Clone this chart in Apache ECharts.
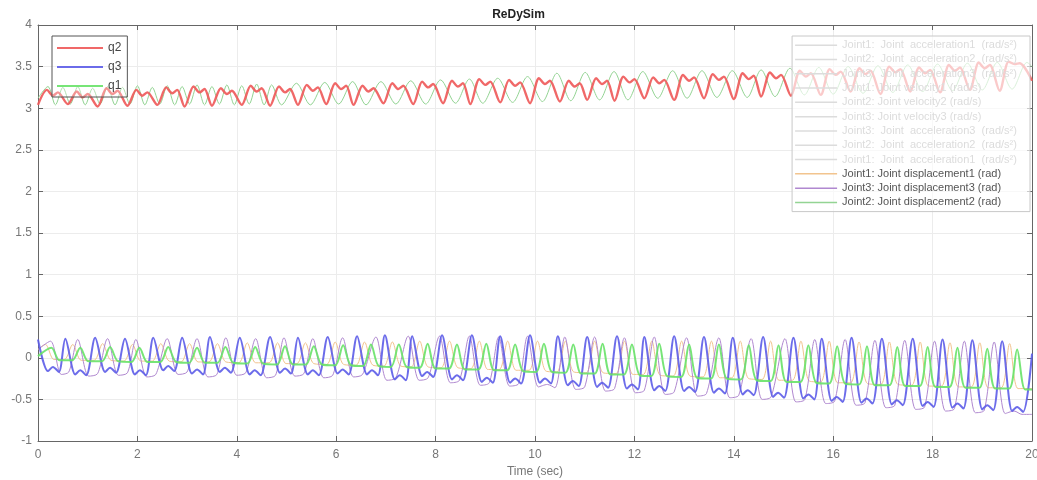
<!DOCTYPE html>
<html>
<head>
<meta charset="utf-8">
<title>ReDySim</title>
<script src="https://cdn.jsdelivr.net/npm/echarts@6/dist/echarts.min.js"></script>
<style>
  html, body { margin: 0; padding: 0; background: #fff; }
  #chart { width: 1037px; height: 480px; }
</style>
</head>
<body>
<div id="chart"></div>
<script>
// [time (sec), value (rad)]

// q2 - thick red, upper band
var q2 = [
  [0, 3.04], [0.18, 3.22], [0.3, 3.15], [0.4, 3.19],
  [0.6, 3.05], [0.78, 3.2], [0.9, 3.13], [1.0, 3.17],
  [1.2, 3.02], [1.38, 3.24], [1.5, 3.17], [1.6, 3.21],
  [1.8, 3.03], [1.98, 3.22], [2.1, 3.15], [2.2, 3.19],
  [2.4, 3.04], [2.58, 3.25], [2.7, 3.18], [2.8, 3.22],
  [2.95, 3.02], [3.13, 3.26], [3.25, 3.19], [3.35, 3.23],
  [3.5, 3.03], [3.68, 3.24], [3.8, 3.17], [3.9, 3.21],
  [4.1, 3.04], [4.28, 3.27], [4.4, 3.2], [4.5, 3.24],
  [4.67, 3.03], [4.85, 3.26], [4.97, 3.19], [5.07, 3.23],
  [5.23, 3.04], [5.41, 3.28], [5.53, 3.21], [5.63, 3.25],
  [5.8, 3.05], [5.98, 3.3], [6.1, 3.23], [6.2, 3.27],
  [6.35, 3.04], [6.53, 3.27], [6.65, 3.2], [6.75, 3.24],
  [6.95, 3.06], [7.13, 3.3], [7.25, 3.23], [7.35, 3.27],
  [7.55, 3.05], [7.73, 3.32], [7.85, 3.25], [7.95, 3.29],
  [8.15, 3.06], [8.33, 3.33], [8.45, 3.26], [8.55, 3.3],
  [8.7, 3.05], [8.88, 3.35], [9.0, 3.28], [9.1, 3.32],
  [9.3, 3.07], [9.48, 3.34], [9.6, 3.27], [9.7, 3.31],
  [9.9, 3.06], [10.08, 3.36], [10.2, 3.29], [10.3, 3.33],
  [10.5, 3.08], [10.68, 3.33], [10.8, 3.26], [10.9, 3.3],
  [11.05, 3.1], [11.23, 3.36], [11.35, 3.29], [11.45, 3.33],
  [11.6, 3.09], [11.78, 3.38], [11.9, 3.31], [12.0, 3.35],
  [12.2, 3.12], [12.38, 3.37], [12.5, 3.3], [12.6, 3.34],
  [12.8, 3.1], [12.98, 3.4], [13.1, 3.33], [13.2, 3.37],
  [13.4, 3.12], [13.58, 3.41], [13.7, 3.34], [13.8, 3.38],
  [14.0, 3.11], [14.18, 3.42], [14.3, 3.35], [14.4, 3.39],
  [14.55, 3.14], [14.73, 3.43], [14.85, 3.36], [14.95, 3.4],
  [15.15, 3.15], [15.33, 3.45], [15.45, 3.38], [15.55, 3.42],
  [15.75, 3.16], [15.93, 3.47], [16.05, 3.4], [16.15, 3.44],
  [16.35, 3.2], [16.53, 3.48], [16.65, 3.41], [16.75, 3.45],
  [16.95, 3.17], [17.13, 3.5], [17.25, 3.43], [17.35, 3.47],
  [17.55, 3.2], [17.73, 3.49], [17.85, 3.42], [17.95, 3.46],
  [18.15, 3.19], [18.33, 3.52], [18.45, 3.45], [18.55, 3.49],
  [18.75, 3.22], [18.93, 3.55], [19.05, 3.48], [19.15, 3.52],
  [19.35, 3.21], [19.53, 3.56], [19.65, 3.53], [19.75, 3.54],
  [20, 3.33]
];

// q3 - thick blue, lower band (troughs drift down)
var q3 = [
  [0, 0.22], [0.2, -0.16], [0.3, -0.11], [0.42, -0.17],
  [0.55, 0.23], [0.75, -0.2], [0.85, -0.15], [0.97, -0.21],
  [1.15, 0.24], [1.35, -0.17], [1.45, -0.12], [1.57, -0.18],
  [1.75, 0.23], [1.95, -0.2], [2.05, -0.15], [2.17, -0.21],
  [2.32, 0.24], [2.52, -0.15], [2.62, -0.1], [2.74, -0.16],
  [2.9, 0.24], [3.1, -0.19], [3.2, -0.14], [3.32, -0.2],
  [3.46, 0.25], [3.66, -0.17], [3.76, -0.12], [3.88, -0.18],
  [4.06, 0.24], [4.26, -0.2], [4.36, -0.15], [4.48, -0.21],
  [4.67, 0.25], [4.87, -0.18], [4.97, -0.13], [5.09, -0.19],
  [5.23, 0.24], [5.43, -0.2], [5.53, -0.15], [5.65, -0.21],
  [5.83, 0.25], [6.03, -0.19], [6.13, -0.14], [6.25, -0.2],
  [6.42, 0.26], [6.62, -0.2], [6.72, -0.15], [6.84, -0.21],
  [6.98, 0.27], [7.18, -0.26], [7.28, -0.21], [7.4, -0.27],
  [7.53, 0.26], [7.73, -0.22], [7.83, -0.17], [7.95, -0.23],
  [8.13, 0.27], [8.33, -0.26], [8.43, -0.21], [8.55, -0.27],
  [8.73, 0.27], [8.93, -0.29], [9.03, -0.24], [9.15, -0.3],
  [9.3, 0.26], [9.5, -0.3], [9.6, -0.25], [9.72, -0.31],
  [9.9, 0.27], [10.1, -0.3], [10.2, -0.25], [10.32, -0.31],
  [10.46, 0.26], [10.66, -0.33], [10.76, -0.28], [10.88, -0.34],
  [11.05, 0.25], [11.25, -0.35], [11.35, -0.3], [11.47, -0.36],
  [11.65, 0.26], [11.85, -0.37], [11.95, -0.32], [12.07, -0.38],
  [12.2, 0.25], [12.4, -0.39], [12.5, -0.34], [12.62, -0.4],
  [12.8, 0.26], [13.0, -0.4], [13.1, -0.35], [13.22, -0.41],
  [13.4, 0.25], [13.6, -0.42], [13.7, -0.37], [13.82, -0.43],
  [13.98, 0.24], [14.18, -0.44], [14.28, -0.39], [14.4, -0.45],
  [14.59, 0.25], [14.79, -0.47], [14.89, -0.42], [15.01, -0.48],
  [15.2, 0.24], [15.4, -0.49], [15.5, -0.44], [15.62, -0.5],
  [15.77, 0.23], [15.97, -0.52], [16.07, -0.47], [16.19, -0.53],
  [16.37, 0.24], [16.57, -0.54], [16.67, -0.49], [16.79, -0.55],
  [16.98, 0.23], [17.18, -0.56], [17.28, -0.51], [17.4, -0.57],
  [17.6, 0.23], [17.8, -0.58], [17.9, -0.53], [18.02, -0.59],
  [18.2, 0.22], [18.4, -0.6], [18.5, -0.55], [18.62, -0.61],
  [18.8, 0.21], [19.0, -0.62], [19.1, -0.57], [19.22, -0.63],
  [19.4, 0.2], [19.6, -0.64], [19.7, -0.59], [19.82, -0.65],
  [20, 0.05]
];

// q1 - thick green, humps on a sinking baseline
var q1 = [
  [0, 0.02], [0.27, 0.12], [0.43, -0.03], [0.69, -0.03],
  [0.85, 0.12], [1.01, -0.04], [1.29, -0.04], [1.45, 0.13], [1.61, -0.04],
  [1.88, -0.05], [2.04, 0.12], [2.2, -0.05], [2.46, -0.05], [2.62, 0.13],
  [2.78, -0.05], [3.04, -0.06], [3.2, 0.12], [3.36, -0.06], [3.61, -0.06],
  [3.77, 0.13], [3.93, -0.06], [4.21, -0.07], [4.37, 0.13], [4.53, -0.07],
  [4.81, -0.08], [4.97, 0.14], [5.13, -0.08], [5.39, -0.08], [5.55, 0.14],
  [5.71, -0.08], [5.98, -0.09], [6.14, 0.15], [6.3, -0.09], [6.54, -0.1],
  [6.7, 0.16], [6.86, -0.1], [7.1, -0.11], [7.26, 0.16], [7.42, -0.11],
  [7.68, -0.12], [7.84, 0.17], [8.0, -0.13], [8.27, -0.13], [8.43, 0.16],
  [8.59, -0.14], [8.86, -0.14], [9.02, 0.17], [9.18, -0.15], [9.44, -0.15],
  [9.6, 0.16], [9.76, -0.16], [10.02, -0.17], [10.18, 0.17], [10.34, -0.17],
  [10.61, -0.18], [10.77, 0.16], [10.93, -0.19], [11.2, -0.19], [11.36, 0.17],
  [11.52, -0.2], [11.79, -0.2], [11.95, 0.16], [12.11, -0.21], [12.34, -0.22],
  [12.5, 0.17], [12.66, -0.22], [12.94, -0.23], [13.1, 0.16], [13.26, -0.24],
  [13.54, -0.25], [13.7, 0.16], [13.86, -0.25], [14.14, -0.26], [14.3, 0.15],
  [14.46, -0.27], [14.74, -0.28], [14.9, 0.15], [15.06, -0.29], [15.34, -0.29],
  [15.5, 0.15], [15.66, -0.3], [15.92, -0.31], [16.08, 0.14], [16.24, -0.31],
  [16.52, -0.32], [16.68, 0.14], [16.84, -0.33], [17.13, -0.33], [17.29, 0.13],
  [17.45, -0.34], [17.74, -0.34], [17.9, 0.13], [18.06, -0.35], [18.34, -0.35],
  [18.5, 0.12], [18.66, -0.36], [18.94, -0.36], [19.1, 0.11], [19.26, -0.37],
  [19.54, -0.37], [19.7, 0.1], [19.86, -0.38], [20, -0.38]
];

// Joint1: displacement1 - thin orange
var disp1 = [
  [0, 0.1], [0.15, 0.16], [0.32, -0.02], [0.53, -0.02], [0.7, 0.16], [0.87, -0.03],
  [1.13, -0.03], [1.3, 0.17], [1.47, -0.03], [1.73, -0.04], [1.9, 0.16], [2.07, -0.04],
  [2.3, -0.04], [2.47, 0.17], [2.64, -0.04], [2.88, -0.05], [3.05, 0.17], [3.22, -0.05],
  [3.44, -0.05], [3.61, 0.17], [3.78, -0.05], [4.04, -0.06], [4.21, 0.18], [4.38, -0.06],
  [4.65, -0.06], [4.82, 0.18], [4.99, -0.07], [5.21, -0.07], [5.38, 0.18], [5.55, -0.07],
  [5.81, -0.08], [5.98, 0.19], [6.15, -0.08], [6.4, -0.09], [6.57, 0.19], [6.74, -0.09],
  [6.96, -0.1], [7.13, 0.19], [7.3, -0.1], [7.51, -0.11], [7.68, 0.2], [7.85, -0.11],
  [8.11, -0.12], [8.28, 0.2], [8.45, -0.12], [8.71, -0.13], [8.88, 0.2], [9.05, -0.14],
  [9.28, -0.14], [9.45, 0.2], [9.62, -0.15], [9.88, -0.15], [10.05, 0.2], [10.22, -0.16],
  [10.44, -0.17], [10.61, 0.2], [10.78, -0.17], [11.03, -0.18], [11.2, 0.2], [11.37, -0.18],
  [11.63, -0.19], [11.8, 0.2], [11.97, -0.2], [12.18, -0.2], [12.35, 0.2], [12.52, -0.21],
  [12.78, -0.22], [12.95, 0.2], [13.12, -0.22], [13.38, -0.23], [13.55, 0.2], [13.72, -0.24],
  [13.96, -0.24], [14.13, 0.2], [14.3, -0.25], [14.57, -0.26], [14.74, 0.2], [14.91, -0.27],
  [15.18, -0.27], [15.35, 0.2], [15.52, -0.28], [15.75, -0.29], [15.92, 0.2], [16.09, -0.3],
  [16.35, -0.3], [16.52, 0.19], [16.69, -0.31], [16.96, -0.32], [17.13, 0.19], [17.3, -0.32],
  [17.58, -0.33], [17.75, 0.19], [17.92, -0.34], [18.18, -0.34], [18.35, 0.18], [18.52, -0.35],
  [18.78, -0.35], [18.95, 0.18], [19.12, -0.36], [19.38, -0.36], [19.55, 0.17], [19.72, -0.37],
  [20, -0.37]
];

// Joint3: displacement3 - thin purple
var disp3 = [
  [0, 0.1], [0.25, 0.2], [0.47, -0.2], [0.62, -0.17],
  [0.8, 0.22], [1.02, -0.22], [1.2, -0.19],
  [1.4, 0.23], [1.62, -0.21], [1.8, -0.18],
  [1.97, 0.22], [2.19, -0.23], [2.37, -0.2],
  [2.6, 0.23], [2.82, -0.2], [3.0, -0.17],
  [3.2, 0.23], [3.42, -0.23], [3.6, -0.2],
  [3.78, 0.24], [4.0, -0.21], [4.18, -0.18],
  [4.38, 0.23], [4.6, -0.24], [4.78, -0.21],
  [4.95, 0.24], [5.17, -0.22], [5.35, -0.19],
  [5.53, 0.23], [5.75, -0.24], [5.93, -0.21],
  [6.13, 0.24], [6.35, -0.23], [6.53, -0.2],
  [6.8, 0.25], [7.02, -0.27], [7.2, -0.24],
  [7.45, 0.26], [7.67, -0.27], [7.85, -0.24],
  [8.08, 0.26], [8.3, -0.3], [8.48, -0.27],
  [8.68, 0.26], [8.9, -0.33], [9.08, -0.3],
  [9.27, 0.25], [9.49, -0.34], [9.67, -0.31],
  [9.85, 0.26], [10.07, -0.35], [10.25, -0.32], [10.4, -0.36],
  [10.6, 0.25], [10.82, -0.38], [11.0, -0.35],
  [11.2, 0.25], [11.42, -0.4], [11.6, -0.37],
  [11.8, 0.24], [12.02, -0.42], [12.2, -0.39],
  [12.4, 0.25], [12.62, -0.44], [12.8, -0.41],
  [13.05, 0.24], [13.27, -0.46], [13.45, -0.43],
  [13.7, 0.24], [13.92, -0.48], [14.1, -0.45],
  [14.35, 0.23], [14.57, -0.5], [14.75, -0.47],
  [15.03, 0.23], [15.25, -0.53], [15.43, -0.5],
  [15.63, 0.22], [15.85, -0.55], [16.03, -0.52],
  [16.24, 0.22], [16.46, -0.57], [16.64, -0.54],
  [16.84, 0.21], [17.06, -0.6], [17.24, -0.57],
  [17.44, 0.21], [17.66, -0.62], [17.84, -0.59],
  [18.04, 0.2], [18.26, -0.64], [18.44, -0.61],
  [18.64, 0.2], [18.86, -0.66], [19.04, -0.63],
  [19.24, 0.19], [19.46, -0.67], [19.64, -0.64], [19.8, -0.68], [20, -0.68]
];

// Joint2: displacement2 - thin green, upper band
var disp2 = [
  [0, 3.12], [0.2, 3.26], [0.35, 3.04], [0.5, 3.25], [0.65, 3.05], [0.8, 3.26],
  [0.95, 3.04], [1.1, 3.24], [1.25, 3.05], [1.4, 3.26], [1.55, 3.04], [1.7, 3.25],
  [1.85, 3.05], [2.0, 3.27], [2.15, 3.04], [2.3, 3.25], [2.45, 3.05], [2.6, 3.27],
  [2.75, 3.04], [2.9, 3.26], [3.05, 3.05], [3.2, 3.28], [3.35, 3.04], [3.5, 3.26],
  [3.65, 3.05], [3.8, 3.28], [3.95, 3.04], [4.1, 3.27], [4.25, 3.05], [4.4, 3.29],
  [4.55, 3.04], [4.7, 3.28], [4.9, 3.04],
  [5.2, 3.3], [5.48, 3.04], [5.77, 3.31], [6.05, 3.05], [6.33, 3.32], [6.6, 3.04],
  [6.9, 3.32], [7.2, 3.05], [7.5, 3.33], [7.8, 3.05], [8.1, 3.34], [8.4, 3.06],
  [8.68, 3.35], [8.95, 3.06], [9.25, 3.36], [9.55, 3.07], [9.85, 3.38], [10.15, 3.08],
  [10.44, 3.42], [10.72, 3.09], [11.01, 3.43], [11.3, 3.1], [11.59, 3.44], [11.87, 3.1],
  [12.17, 3.44], [12.47, 3.12], [12.77, 3.45], [13.06, 3.12], [13.36, 3.45], [13.66, 3.13],
  [13.97, 3.45], [14.27, 3.13], [14.55, 3.46], [14.83, 3.14], [15.13, 3.48], [15.42, 3.16],
  [15.71, 3.49], [16.0, 3.17], [16.3, 3.5], [16.6, 3.18], [16.9, 3.51], [17.2, 3.19],
  [17.5, 3.52], [17.8, 3.2], [18.1, 3.53], [18.4, 3.21], [18.7, 3.54], [19.0, 3.22],
  [19.3, 3.55], [19.6, 3.23], [19.9, 3.55], [20, 3.5]
];

var qNames = ["q2", "q3", "q1"];
// entries switched off in the scope (shown faded in the legend)
var hiddenNames = [
  "Joint1:  Joint  acceleration1  (rad/s\u00b2)",
  "Joint2:  Joint  acceleration2  (rad/s\u00b2)",
  "Joint3:  Joint  acceleration3  (rad/s\u00b2)",
  "Joint1: Joint velocity1 (rad/s)",
  "Joint2: Joint velocity2 (rad/s)",
  "Joint3: Joint velocity3 (rad/s)",
  "Joint3:  Joint  acceleration3  (rad/s\u00b2) ",
  "Joint2:  Joint  acceleration2  (rad/s\u00b2) ",
  "Joint1:  Joint  acceleration1  (rad/s\u00b2) "
];
var hiddenColors = ["#b8c8e8", "#f0c0c0", "#f0d8a0", "#c8b8e0", "#b8e0b8", "#c0d8e8", "#e0c0d8", "#d8d8b0", "#c8c8c8"];
var dispNames = [
  "Joint1: Joint displacement1 (rad)",
  "Joint3: Joint displacement3 (rad)",
  "Joint2: Joint displacement2 (rad)"
];

var myChart = echarts.init(document.getElementById("chart"));

var font = "Liberation Sans, Arial, sans-serif";

function lineSeries(name, data, color, width) {
  return {
    name: name,
    type: "line",
    data: data,
    showSymbol: false,
    smooth: 0.3,
    color: color,
    lineStyle: { color: color, width: width },
    emphasis: { disabled: true }
  };
}

var series = [];
var selected = {};
for (var i = 0; i < hiddenNames.length; i++) {
  series.push(lineSeries(hiddenNames[i], [], hiddenColors[i], 1));
  selected[hiddenNames[i]] = false;
}
series.push(lineSeries(dispNames[0], disp1, "#f2c48e", 1));
series.push(lineSeries(dispNames[1], disp3, "#b088d0", 1));
series.push(lineSeries(dispNames[2], disp2, "#93d493", 1));
series.push(lineSeries("q2", q2, "rgba(238,88,88,0.9)", 2.4));
series.push(lineSeries("q3", q3, "rgba(92,92,232,0.9)", 2));
series.push(lineSeries("q1", q1, "rgba(104,226,104,0.9)", 2));

// box-style axes: ticks on all four sides, pointing inwards
var axisLine = { show: true, onZero: false, lineStyle: { color: "#666", width: 1 } };
var axisTick = { show: true, inside: true, length: 5, lineStyle: { color: "#666" } };

var option = {
  animation: false,
  backgroundColor: "#fff",
  textStyle: { fontFamily: font },
  title: {
    text: "ReDySim",
    left: "center",
    top: 4,
    textStyle: { fontSize: 12, fontWeight: "bold", color: "#222", fontFamily: font }
  },
  // fixed plot box; do not let the grid shrink to fit the edge labels
  grid: { left: 38, right: 5, top: 25, bottom: 39, containLabel: false, outerBoundsMode: "none" },
  legend: [
    {
      data: qNames,
      orient: "vertical",
      left: 52,
      top: 36,
      padding: [5, 6, 4, 5],
      itemGap: 5,
      itemWidth: 46,
      itemHeight: 2,
      icon: "rect",
      borderColor: "#555",
      borderWidth: 1,
      backgroundColor: "rgba(255,255,255,0.3)",
      textStyle: { fontSize: 12, lineHeight: 14, color: "#444", fontFamily: font }
    },
    {
      data: hiddenNames.concat(dispNames),
      selected: selected,
      orient: "vertical",
      right: 7,
      top: 36,
      padding: [3, 10, 3, 3],
      itemGap: 2,
      itemWidth: 42,
      itemHeight: 1.5,
      icon: "rect",
      borderColor: "#c8c8c8",
      borderWidth: 1,
      backgroundColor: "rgba(255,255,255,0.65)",
      inactiveColor: "#dcdcdc",
      textStyle: { fontSize: 11, lineHeight: 12.3, color: "#555", fontFamily: font }
    }
  ],
  xAxis: [
    {
      type: "value",
      min: 0,
      max: 20,
      interval: 2,
      position: "bottom",
      name: "Time (sec)",
      nameLocation: "middle",
      nameGap: 23,
      nameTextStyle: { fontSize: 12, color: "#777", fontFamily: font },
      axisLine: axisLine,
      axisTick: axisTick,
      axisLabel: { fontSize: 12, color: "#777", margin: 8 },
      splitLine: { show: true, lineStyle: { color: "#ececec" } }
    },
    {
      type: "value",
      min: 0,
      max: 20,
      interval: 2,
      position: "top",
      axisLine: axisLine,
      axisTick: axisTick,
      axisLabel: { show: false },
      splitLine: { show: false }
    }
  ],
  yAxis: [
    {
      type: "value",
      min: -1,
      max: 4,
      interval: 0.5,
      position: "left",
      axisLine: axisLine,
      axisTick: axisTick,
      axisLabel: { fontSize: 12, color: "#777", margin: 6 },
      splitLine: { show: true, lineStyle: { color: "#ececec" } }
    },
    {
      type: "value",
      min: -1,
      max: 4,
      interval: 0.5,
      position: "right",
      axisLine: axisLine,
      axisTick: axisTick,
      axisLabel: { show: false },
      splitLine: { show: false }
    }
  ],
  series: series
};

myChart.setOption(option);

window.addEventListener("resize", function () {
  myChart.resize();
});
</script>
</body>
</html>
